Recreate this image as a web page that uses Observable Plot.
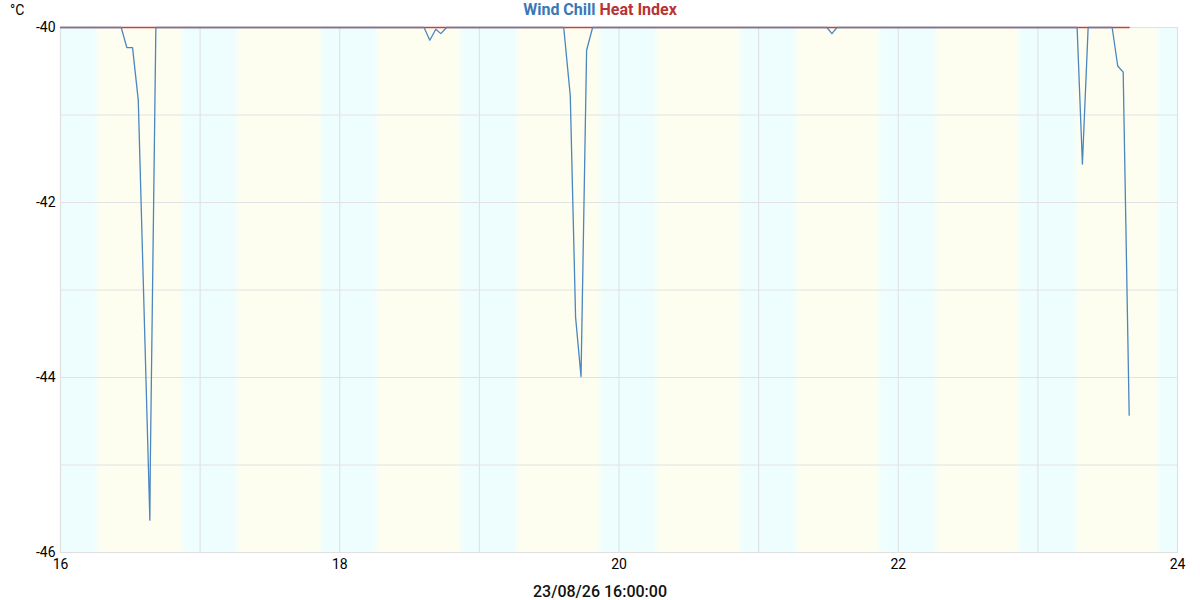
<!DOCTYPE html>
<html>
<head>
<meta charset="utf-8">
<script src="https://cdn.jsdelivr.net/npm/d3@7"></script>
<script src="https://cdn.jsdelivr.net/npm/@observablehq/plot@0.6"></script>
<style>
  html, body { margin: 0; padding: 0; background: #fff; }
  #wrap { position: relative; width: 1200px; height: 600px; font-family: Roboto, "Noto Sans", sans-serif; }
  #title { position: absolute; top: 0px; left: 0; width: 1200px; text-align: center; font-size: 16px; font-weight: 700; line-height: 20px; }
  #unit { position: absolute; top: 1px; left: 10px; font-size: 14px; line-height: 18px; color: #000; }
  #caption { position: absolute; top: 582px; left: 0; width: 1200px; text-align: center; font-size: 16px; font-weight: 500; line-height: 20px; color: #111; }
  svg { display: block; }
</style>
</head>
<body>
<div id="wrap">
  <div id="chart"></div>
  <div id="title"><span style="color:#3a78b6">Wind Chill</span> <span style="color:#b83434">Heat Index</span></div>
  <div id="unit">°C</div>
  <div id="caption">23/08/26 16:00:00</div>
</div>
<script>
// Time in decimal days of the month (August 2026)
const windTimes = [16.0, 16.435, 16.475, 16.516, 16.557, 16.640, 16.643, 16.683,
  18.604, 18.645, 18.688, 18.724, 18.765,
  19.604, 19.651, 19.689, 19.728, 19.768, 19.811,
  21.489, 21.525, 21.561,
  23.281, 23.319, 23.360, 23.532, 23.572, 23.611, 23.654];
const windValues = [-40, -40, -40.23, -40.23, -40.83, -45.63, -45.02, -40,
  -40, -40.145, -40.02, -40.07, -40,
  -40, -40.78, -43.31, -43.99, -40.26, -40,
  -40, -40.07, -40,
  -40, -41.56, -40, -40, -40.44, -40.51, -44.43];
const heatTimes = [16.0, 23.654];
const heatValues = [-40, -40];

const sunrise = [16.262, 17.266, 18.268, 19.270, 20.268, 21.272, 22.274, 23.278];
const sunset  = [16.874, 17.866, 18.868, 19.868, 20.868, 21.864, 22.866, 23.862];

const xTicks = [16, 18, 20, 22, 24];
const xGrid = [16, 17, 18, 19, 20, 21, 22, 23, 24];
const yTicks = [-46, -44, -42, -40];
const yGrid = [-46, -45, -44, -43, -42, -41, -40];

const wind = windTimes.map((t, i) => ({t, v: windValues[i]}));
const heat = heatTimes.map((t, i) => ({t, v: heatValues[i]}));

// background bands with soft edges
const nightColor = "#eefefe", dayColor = "#fefef0";
const interp = d3.interpolateRgb(nightColor, dayColor);
const w = 0.05, n = 8;
const bands = [];
sunrise.forEach((sr, i) => {
  const ss = sunset[i];
  for (let k = 0; k < n; k++) {
    const a = sr - w / 2 + (k * w) / n, b = sr - w / 2 + ((k + 1) * w) / n;
    bands.push({x1: a, x2: b, fill: interp((k + 0.5) / n)});
    const c = ss - w / 2 + (k * w) / n, d = ss - w / 2 + ((k + 1) * w) / n;
    bands.push({x1: c, x2: d, fill: interp(1 - (k + 0.5) / n)});
  }
  bands.push({x1: sr + w / 2, x2: ss - w / 2, fill: dayColor});
});

const chart = Plot.plot({
  width: 1200,
  height: 600,
  marginTop: 27,
  marginLeft: 60,
  marginRight: 23,
  marginBottom: 48,
  style: {fontFamily: "Roboto, 'Noto Sans', sans-serif", fontSize: "14px", color: "#000", background: "#fff"},
  x: {domain: [16, 24], type: "linear"},
  y: {domain: [-46, -40], type: "linear"},
  marks: [
    Plot.rect([{x1: 16, x2: 24}], {x1: "x1", x2: "x2", fill: nightColor}),
    Plot.rect(bands, {x1: "x1", x2: "x2", fill: "fill", shapeRendering: "crispEdges"}),
    Plot.gridY(yGrid, {stroke: "#e2e2e2", strokeOpacity: 1, strokeWidth: 1}),
    Plot.gridX(xGrid, {stroke: "#dfe3e6", strokeOpacity: 1, strokeWidth: 1.2}),
    Plot.frame({stroke: "#e0e0e0", strokeWidth: 1}),
    Plot.axisY(yTicks, {tickSize: 0, tickPadding: 5, fontSize: 14, label: null, tickFormat: d => String(d)}),
    Plot.axisX(xTicks, {tickSize: 0, tickPadding: 7, fontSize: 14, label: null, tickFormat: d => String(d)}),
    Plot.line(heat, {x: "t", y: "v", stroke: "#c8403c", strokeWidth: 1.3}),
    Plot.line(wind, {x: "t", y: "v", stroke: "#4a86c0", strokeWidth: 1.3})
  ]
});
document.getElementById("chart").appendChild(chart);
</script>
</body>
</html>
